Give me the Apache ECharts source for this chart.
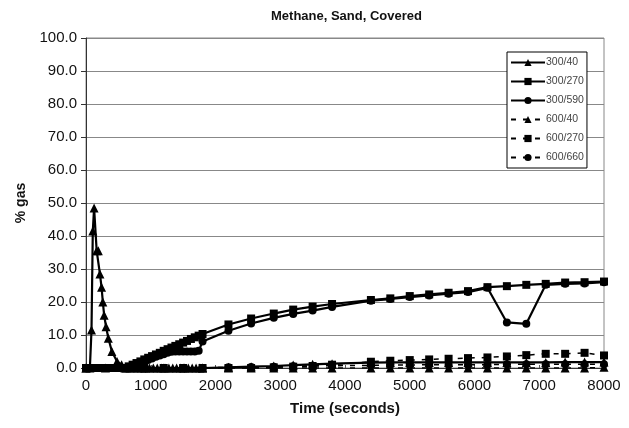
<!DOCTYPE html>
<html>
<head>
<meta charset="utf-8">
<script src="https://cdn.jsdelivr.net/npm/echarts@6/dist/echarts.min.js"></script>
<style>
  html, body { margin: 0; padding: 0; background: #fff; }
  #main { width: 629px; height: 428px; }
</style>
</head>
<body>
<div id="main"></div>
<script>
// 数据
var seriesNames = ['300/40', '300/270', '300/590', '600/40', '600/270', '600/660'];

// 300/40 - sharp spike at the start, then near zero
var t_300_40 = [0, 60, 85, 105, 125, 165, 190, 215, 240, 260, 280, 310, 345, 400, 480, 550,
  620, 680, 740, 800, 860, 920, 980, 1040, 1100, 1160, 1220, 1280, 1340, 1400, 1460, 1520, 1580, 1640, 1700, 1760, 1800,
  2200, 2550, 2900, 3200, 3500, 3800, 4400, 4700, 5000, 5300, 5600, 5900, 6200, 6500, 6800, 7100, 7400, 7700, 8000];
var v_300_40 = [0, 0, 11.5, 41.5, 48.5, 35.5, 35.5, 28.5, 24.5, 20, 16, 12.5, 9, 5, 2, 1,
  0, 0, 0, 0, 0, 0, 0, 0, 0, 0, 0, 0, 0, 0, 0, 0, 0, 0, 0, 0, 0,
  0.2, 0.4, 0.6, 0.9, 1.1, 1.3, 1.6, 1.7, 1.7, 1.7, 1.7, 1.7, 1.7, 1.7, 1.7, 1.7, 1.8, 1.8, 1.8];

// 300/270 and 300/590 share the sample times
var t_300 = [0, 60, 120, 180, 240, 300, 360, 420, 480, 540, 600, 660, 720, 780, 840, 900, 960, 1020, 1080, 1140,
  1200, 1260, 1320, 1380, 1440, 1500, 1560, 1620, 1680, 1740, 1800,
  2200, 2550, 2900, 3200, 3500, 3800, 4400, 4700, 5000, 5300, 5600, 5900, 6200, 6500, 6800, 7100, 7400, 7700, 8000];
var v_300_270 = [0, 0, 0, 0, 0, 0, 0, 0, 0, 0, 0, 0.5, 1.0, 1.5, 2.0, 2.6, 3.1, 3.6, 4.1, 4.6,
  5.2, 5.7, 6.2, 6.7, 7.2, 7.7, 8.2, 8.8, 9.3, 9.8, 10.3,
  13.2, 15.0, 16.5, 17.7, 18.6, 19.4, 20.6, 21.1, 21.8, 22.3, 22.8, 23.3, 24.5, 24.8, 25.2, 25.5, 25.9, 26.0, 26.2];
var v_300_590 = [0, 0, 0, 0, 0, 0, 0, 0, 0, 0, 0, 0, 0.4, 0.9, 1.4, 1.9, 2.4, 2.9, 3.4, 3.8,
  4.2, 4.6, 4.9, 5.0, 5.0, 5.0, 5.0, 5.0, 5.0, 5.2, 8.0,
  11.3, 13.5, 15.2, 16.4, 17.4, 18.5, 20.4, 20.9, 21.5, 22.0, 22.5, 23.0, 24.3, 13.8, 13.4, 25.2, 25.5, 25.6, 26.0];

// 600 series
var t_600 = [0, 300, 600, 900, 1200, 1500, 1800, 2200, 2550, 2900, 3200, 3500, 3800,
  4400, 4700, 5000, 5300, 5600, 5900, 6200, 6500, 6800, 7100, 7400, 7700, 8000];
var v_600_40 = [0, 0, 0, 0, 0, 0, 0, 0, 0, 0, 0, 0, 0,
  0, 0, 0, 0, 0, 0, 0, 0, 0, 0, 0, 0, 0.2];
var v_600_270 = [0, 0, 0, 0, 0, 0, 0, 0, 0, 0.2, 0.4, 0.6, 1.0,
  1.9, 2.2, 2.4, 2.6, 2.8, 3.0, 3.2, 3.5, 3.9, 4.3, 4.3, 4.6, 3.8];
var v_600_660 = [0, 0, 0, 0, 0, 0, 0, 0.2, 0.3, 0.4, 0.5, 0.6, 0.7,
  0.8, 0.9, 0.9, 1.0, 1.0, 1.0, 1.0, 1.1, 1.1, 1.1, 1.1, 1.1, 1.1];

var yTicks = ['0.0', '10.0', '20.0', '30.0', '40.0', '50.0', '60.0', '70.0', '80.0', '90.0', '100.0'];
var xTicks = ['0', '1000', '2000', '3000', '4000', '5000', '6000', '7000', '8000'];

function pairs(ts, vs) {
  var out = [];
  for (var i = 0; i < ts.length; i++) out.push([ts[i], vs[i]]);
  return out;
}

var FONT = 'Liberation Sans';

function mkSeries(name, ts, vs, symbol, size, dashed) {
  return {
    name: name,
    type: 'line',
    data: pairs(ts, vs),
    symbol: symbol,
    symbolSize: size,
    showAllSymbol: true,
    animation: false,
    itemStyle: { color: '#000' },
    lineStyle: { color: '#000', width: dashed ? 1.5 : 2.2, type: dashed ? [5, 7] : 'solid' }
  };
}

myChart = echarts.init(document.getElementById('main'));
myChart.setOption({
  animation: false,
  backgroundColor: '#fff',
  title: {
    text: 'Methane, Sand, Covered',
    left: 266,
    top: 5,
    textStyle: { fontFamily: FONT, fontSize: 13, fontWeight: 'bold', color: '#111' }
  },
  legend: {
    data: seriesNames,
    orient: 'vertical',
    left: 507,
    top: 52,
    itemWidth: 34,
    itemHeight: 9,
    itemGap: 8,
    padding: [5, 3, 5, 3],
    borderColor: '#000',
    borderWidth: 1,
    backgroundColor: '#fff',
    textStyle: { fontFamily: FONT, fontSize: 10.5, color: '#444', padding: [0, 0, 0, -4] }
  },
  grid: {
    left: 86, right: 25, top: 38, bottom: 60,
    show: true, borderColor: '#888', borderWidth: 1
  },
  xAxis: {
    type: 'value',
    min: 0, max: 8000, interval: 1000,
    name: 'Time (seconds)',
    nameLocation: 'middle',
    nameGap: 33,
    nameTextStyle: { fontFamily: FONT, fontSize: 15, fontWeight: 'bold', color: '#111' },
    axisLine: { show: true, lineStyle: { color: '#333' } },
    axisTick: { show: true, length: 3, inside: true, lineStyle: { color: '#555' } },
    axisLabel: {
      fontFamily: FONT, fontSize: 15, color: '#111', margin: 10,
      formatter: function(v) { return xTicks[Math.round(v / 1000)]; }
    },
    splitLine: { show: false }
  },
  yAxis: {
    type: 'value',
    min: 0, max: 100, interval: 10,
    name: '% gas',
    nameLocation: 'middle',
    nameGap: 58,
    nameTextStyle: { fontFamily: FONT, fontSize: 14, fontWeight: 'bold', color: '#111' },
    axisLine: { show: true, lineStyle: { color: '#333' } },
    axisTick: { show: true, length: 5, lineStyle: { color: '#333' } },
    axisLabel: {
      fontFamily: FONT, fontSize: 15, color: '#111', margin: 9,
      formatter: function(v) { return yTicks[Math.round(v / 10)]; }
    },
    splitLine: { show: true, lineStyle: { color: '#888', width: 1.2 } }
  },
  series: [
    mkSeries('300/40', t_300_40, v_300_40, 'triangle', 9, false),
    mkSeries('300/270', t_300, v_300_270, 'rect', 8, false),
    mkSeries('300/590', t_300, v_300_590, 'circle', 8, false),
    mkSeries('600/40', t_600, v_600_40, 'triangle', 9, true),
    mkSeries('600/270', t_600, v_600_270, 'rect', 8, true),
    mkSeries('600/660', t_600, v_600_660, 'circle', 8, true)
  ]
});
</script>
</body>
</html>
